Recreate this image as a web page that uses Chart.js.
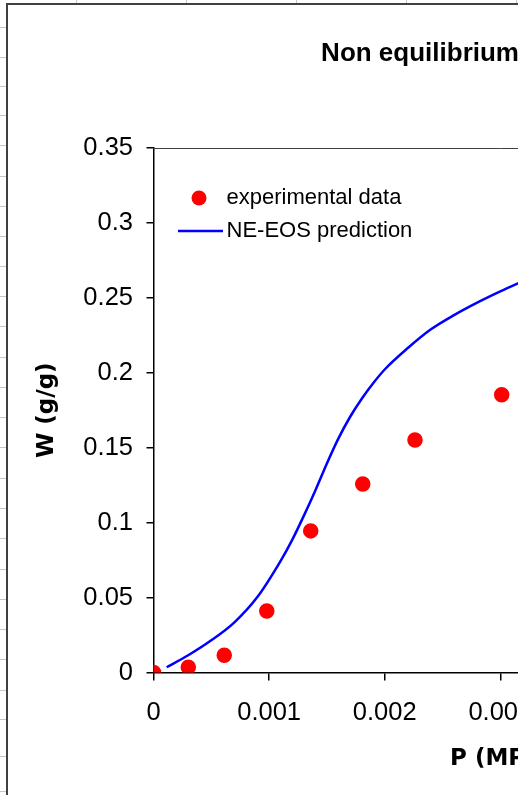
<!DOCTYPE html>
<html>
<head>
<meta charset="utf-8">
<title>Non equilibrium</title>
<script src="https://cdn.jsdelivr.net/npm/chart.js@4.4.1/dist/chart.umd.min.js"></script>
<style>
  html, body { margin: 0; padding: 0; overflow: hidden; background: #fff; }
  #chart { position: absolute; left: -7px; top: 0; }
</style>
</head>
<body>
<canvas id="chart" width="910" height="795"></canvas>
<script>
// experimental points: pressure (MPa) vs uptake (g/g)
const expP = [0, 0.000301, 0.000612, 0.00098, 0.00136, 0.00181, 0.002262, 0.003012];
const expW = [0, 0.0035, 0.0115, 0.041, 0.0945, 0.1258, 0.1552, 0.1854];

// NE-EOS model curve
const modelP = [0.000114, 0.0003, 0.0005, 0.0007, 0.0009, 0.0011, 0.0012, 0.0013, 0.0014, 0.0015, 0.0016,
  0.0017, 0.0018, 0.0019, 0.002, 0.0022, 0.0024, 0.0026, 0.0028, 0.003, 0.0032];
const modelW = [0.0035, 0.0115, 0.0215, 0.0335, 0.0505, 0.0745, 0.0885, 0.1045, 0.1215, 0.1395, 0.1562,
  0.1705, 0.1825, 0.193, 0.2022, 0.2165, 0.229, 0.2385, 0.2468, 0.2543, 0.2613];

const xTicks = [0, 0.001, 0.002, 0.003, 0.004, 0.005, 0.006];
const yTicks = [0, 0.05, 0.1, 0.15, 0.2, 0.25, 0.3, 0.35];

const plainFont = "'Liberation Sans', Arial, sans-serif";
const boldFont = "'DejaVu Sans', sans-serif";
const red = '#ff0000';
const blue = '#0000ff';

// worksheet row lines left of the chart frame
const rowLines = [27, 57, 86, 115, 145, 176, 206, 236, 266, 296, 326, 357, 387, 417, 447, 478,
  508, 538, 569, 599, 629, 659, 690, 719, 756, 791];

function icon(w, h, paint) {
  const c = document.createElement('canvas');
  c.width = w;
  c.height = h;
  paint(c.getContext('2d'));
  return c;
}

// legend symbols (drawn off-centre so the text sits close to them)
const dotIcon = icon(34, 16, g => {
  g.fillStyle = red;
  g.beginPath();
  g.arc(26, 8, 7.5, 0, 2 * Math.PI);
  g.fill();
});
const lineIcon = icon(66, 4, g => {
  g.strokeStyle = blue;
  g.lineWidth = 2.5;
  g.beginPath();
  g.moveTo(21, 2);
  g.lineTo(66, 2);
  g.stroke();
});
const legendIcons = [dotIcon, lineIcon];

const fmt = v => String(+Number(v).toFixed(4));

const sheet = {
  id: 'sheet',
  beforeDraw(chart) {
    const { ctx, width, height } = chart;
    ctx.save();
    ctx.fillStyle = '#fff';
    ctx.fillRect(0, 0, width, height);
    ctx.strokeStyle = '#c6c6c6';
    ctx.lineWidth = 1;
    ctx.beginPath();
    for (let x = 83; x < width; x += 110) {
      ctx.moveTo(x + 0.5, 0);
      ctx.lineTo(x + 0.5, 4);
    }
    for (const y of rowLines) {
      ctx.moveTo(0, y + 0.5);
      ctx.lineTo(14, y + 0.5);
    }
    ctx.stroke();
    ctx.strokeStyle = '#404040';
    ctx.lineWidth = 2;
    ctx.strokeRect(14, 4, width, height);
    ctx.restore();
  },
  afterLayout(chart) {
    // keep the legend in the upper left of the plot
    const lg = chart.legend;
    const a = chart.chartArea;
    lg.left = a.left;
    lg.right = a.right;
    lg.top = a.top + 28;
    lg.bottom = a.bottom;
  },
  beforeDatasetsDraw(chart) {
    const { ctx, chartArea: a } = chart;
    const top = Math.round(a.top) + 0.5;
    ctx.save();
    ctx.strokeStyle = '#404040';
    ctx.lineWidth = 1;
    ctx.beginPath();
    ctx.moveTo(a.left, top);
    ctx.lineTo(a.right, top);
    ctx.lineTo(a.right, a.bottom);
    ctx.stroke();
    ctx.restore();
  }
};

const axisGrid = { drawOnChartArea: false, drawTicks: true, color: '#000', lineWidth: 1.5 };
const axisBorder = { display: true, color: '#000', width: 1.5 };

new Chart(document.getElementById('chart'), {
  type: 'scatter',
  data: {
    datasets: [
      {
        label: 'experimental data',
        data: expP.map((p, i) => ({ x: p, y: expW[i] })),
        showLine: false,
        pointRadius: 7,
        pointBorderWidth: 1.5,
        pointBackgroundColor: red,
        pointBorderColor: red
      },
      {
        label: 'NE-EOS prediction',
        data: modelP.map((p, i) => ({ x: p, y: modelW[i] })),
        showLine: true,
        borderColor: blue,
        borderWidth: 2.5,
        pointRadius: 0,
        cubicInterpolationMode: 'monotone'
      }
    ]
  },
  options: {
    responsive: false,
    animation: false,
    devicePixelRatio: 1,
    events: [],
    layout: { padding: { left: 0, top: 0, right: 55.9, bottom: 0 } },
    plugins: {
      tooltip: { enabled: false },
      title: {
        display: true,
        text: 'Non equilibrium',
        color: '#000',
        font: { family: plainFont, size: 26, weight: 'bold' },
        padding: { top: 38.4, bottom: 78.4 }
      },
      legend: {
        position: 'chartArea',
        align: 'start',
        labels: {
          color: '#000',
          font: { family: plainFont, size: 22 },
          usePointStyle: true,
          pointStyleWidth: 51,
          boxHeight: 10,
          padding: 11,
          generateLabels(chart) {
            const items = Chart.defaults.plugins.legend.labels.generateLabels(chart);
            items.forEach((it, i) => { it.pointStyle = legendIcons[i]; });
            return items;
          }
        }
      }
    },
    scales: {
      x: {
        type: 'linear',
        position: 'bottom',
        min: 0,
        max: 0.006,
        afterBuildTicks: s => { s.ticks = xTicks.map(v => ({ value: v })); },
        afterFit: s => { s.height = 122.5; },
        ticks: {
          color: '#000',
          font: { family: plainFont, size: 25.5 },
          padding: 17.1,
          maxRotation: 0,
          autoSkip: false,
          callback: fmt
        },
        title: {
          display: true,
          text: 'P (MPa)',
          color: '#000',
          font: { family: boldFont, size: 23, weight: 'bold' },
          padding: { top: 0, bottom: 22.5 }
        },
        grid: { ...axisGrid, tickLength: 8 },
        border: axisBorder
      },
      y: {
        min: 0,
        max: 0.35,
        afterBuildTicks: s => { s.ticks = yTicks.map(v => ({ value: v })); },
        afterFit: s => { s.width = 160.5; },
        ticks: {
          color: '#000',
          font: { family: plainFont, size: 25.5 },
          padding: 13.5,
          callback: fmt
        },
        title: {
          display: true,
          text: 'W (g/g)',
          color: '#000',
          font: { family: boldFont, size: 23, weight: 'bold' },
          padding: { top: 40.2, bottom: 0 }
        },
        grid: { ...axisGrid, tickLength: 7 },
        border: axisBorder
      }
    }
  },
  plugins: [sheet]
});
</script>
</body>
</html>
